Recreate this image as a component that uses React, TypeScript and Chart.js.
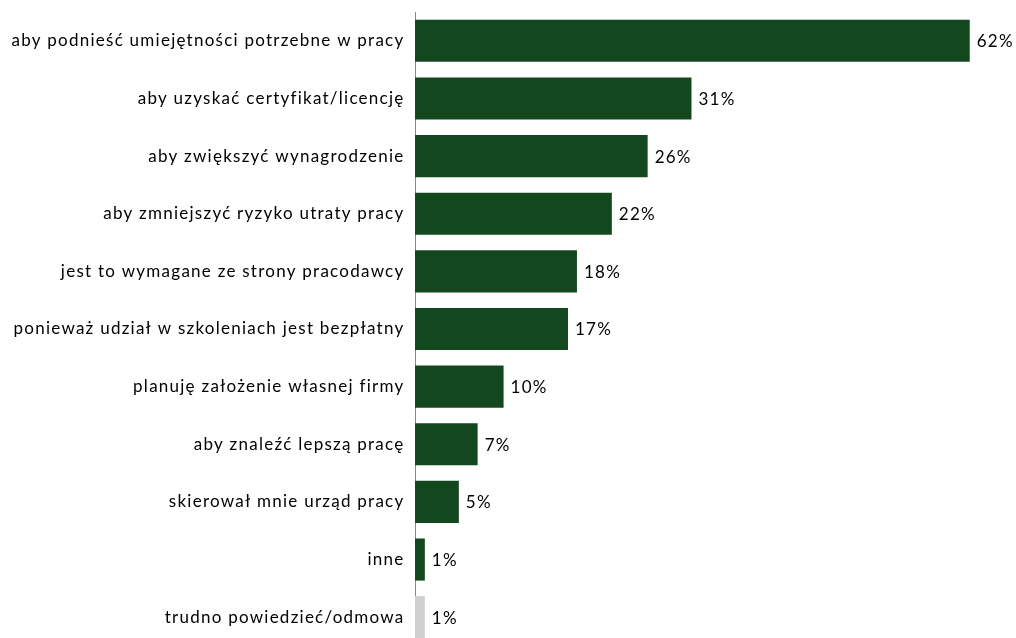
import React, { useEffect, useRef } from "react";
import { Chart, registerables } from "chart.js";

Chart.register(...registerables);

const categories = [
  "aby podnieść umiejętności potrzebne w pracy",
  "aby uzyskać certyfikat/licencję",
  "aby zwiększyć wynagrodzenie",
  "aby zmniejszyć ryzyko utraty pracy",
  "jest to wymagane ze strony pracodawcy",
  "ponieważ udział w szkoleniach jest bezpłatny",
  "planuję założenie własnej firmy",
  "aby znaleźć lepszą pracę",
  "skierował mnie urząd pracy",
  "inne",
  "trudno powiedzieć/odmowa",
];

const values = [62, 30.9, 26, 22, 18.1, 17.1, 9.9, 7, 4.9, 1.1, 1.1];

const valueLabels = ["62%", "31%", "26%", "22%", "18%", "17%", "10%", "7%", "5%", "1%", "1%"];

const GREEN = "#13481e";
const GRAY = "#d0d0d0";
const FONT = "Lato, 'Open Sans', sans-serif";
const LETTER_SPACING = "1.25px";

const spacingPlugin = {
  id: "letterSpacing",
  beforeDraw(chart: any) {
    (chart.ctx as any).letterSpacing = LETTER_SPACING;
  },
};

const labelPlugin = {
  id: "valueLabels",
  afterDatasetsDraw(chart: any) {
    const ctx = chart.ctx;
    const meta = chart.getDatasetMeta(0);
    ctx.save();
    ctx.letterSpacing = LETTER_SPACING;
    ctx.fillStyle = "#000";
    ctx.font = `17px ${FONT}`;
    ctx.textAlign = "left";
    ctx.textBaseline = "middle";
    meta.data.forEach((bar: any, i: number) => {
      ctx.fillText(valueLabels[i], bar.x + 7, bar.y + 1);
    });
    ctx.restore();
  },
};

export default function App() {
  const ref = useRef<HTMLCanvasElement | null>(null);

  useEffect(() => {
    document.body.style.margin = "0";
    document.body.style.overflow = "hidden";
    const chart = new Chart(ref.current!, {
      type: "bar",
      data: {
        labels: categories,
        datasets: [
          {
            data: values,
            backgroundColor: (c: any) => (c.dataIndex === categories.length - 1 ? GRAY : GREEN),
            categoryPercentage: 1,
            barPercentage: 0.73,
          },
        ],
      },
      options: {
        indexAxis: "y",
        animation: false,
        responsive: false,
        maintainAspectRatio: false,
        layout: { padding: { top: 12, right: 6, left: 0, bottom: 0 } },
        plugins: { legend: { display: false }, tooltip: { enabled: false } },
        scales: {
          x: { display: false, min: 0, max: 66.5 },
          y: {
            grid: { display: false, drawTicks: false },
            border: { display: true, color: "#888888", width: 1 },
            ticks: { color: "#000", font: { size: 17, family: FONT }, padding: 10.5, autoSkip: false },
            afterFit: (s: any) => {
              s.width = 415;
              s.paddingTop = 0;
              s.paddingBottom = 0;
            },
          },
        },
      },
      plugins: [spacingPlugin, labelPlugin],
    });
    return () => chart.destroy();
  }, []);

  return (
    <div style={{ position: "fixed", left: 0, top: 0, width: 1016, height: 646, background: "#fff" }}>
      <canvas ref={ref} width={1016} height={646} style={{ width: 1016, height: 646 }} />
    </div>
  );
}
